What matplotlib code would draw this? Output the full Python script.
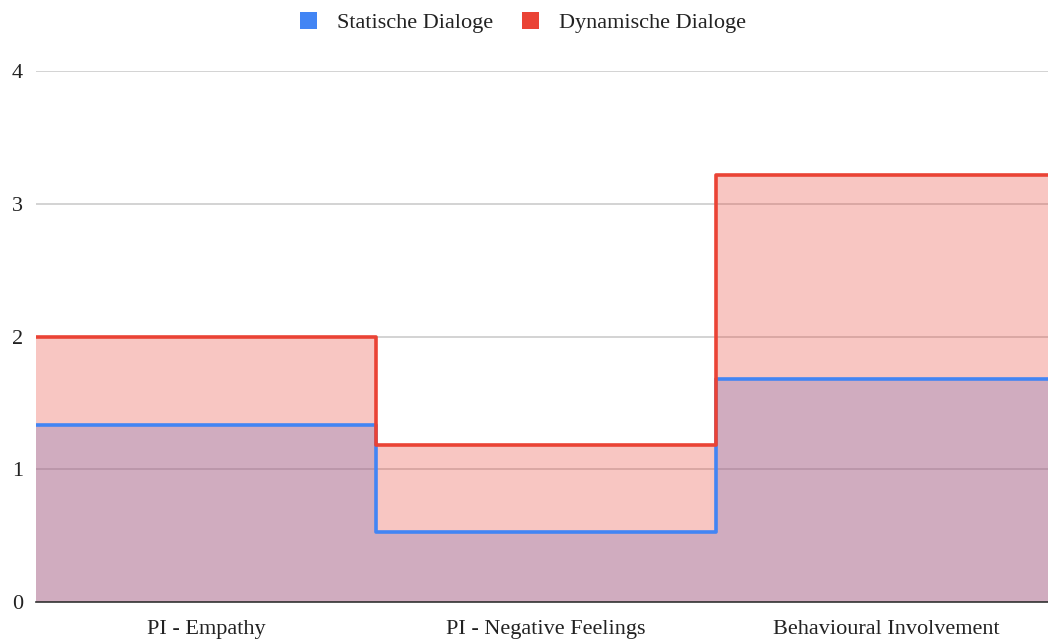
import numpy as np
import matplotlib.pyplot as plt
from matplotlib.patches import Patch

plt.rcParams['font.family'] = ['Liberation Serif', 'DejaVu Serif']

categories = ["PI - Empathy", "PI - Negative Feelings", "Behavioural Involvement"]
statische = [1.33, 0.53, 1.68]
dynamische = [2.0, 1.18, 3.22]

BLUE = "#4285F4"
RED = "#EA4335"

W, H = 1048, 641
fig = plt.figure(figsize=(W / 100, H / 100), dpi=100)
# plot area runs a bit past the right edge of the canvas
ax = fig.add_axes([36 / W, 39 / H, 1020 / W, 531 / H])

edges = np.arange(len(categories) + 1)

# overlapping (not stacked) stepped areas
ax.stairs(statische, edges, fill=True, baseline=0, color=BLUE, alpha=0.3, lw=0, zorder=2)
ax.stairs(dynamische, edges, fill=True, baseline=0, color=RED, alpha=0.3, lw=0, zorder=3)
ax.stairs(statische, edges, baseline=None, color=BLUE, lw=2.6, zorder=4,
          joinstyle='round', capstyle='butt')
ax.stairs(dynamische, edges, baseline=None, color=RED, lw=2.6, zorder=5,
          joinstyle='round', capstyle='butt')

ax.set_xlim(0, 3)
ax.set_ylim(0, 4)
ax.set_yticks([0, 1, 2, 3, 4])
ax.set_xticks(edges[:-1] + 0.5)
ax.set_xticklabels(categories)
ax.tick_params(axis='both', length=0, labelsize=16, colors='#222222')
ax.tick_params(axis='y', pad=9.5)
ax.tick_params(axis='x', pad=13)

ax.grid(axis='y', color='#cccccc', lw=1.2, zorder=1)
ax.set_axisbelow(True)
for s in ['top', 'right', 'left']:
    ax.spines[s].set_visible(False)
ax.spines['bottom'].set_color('#333333')
ax.spines['bottom'].set_linewidth(1.2)
ax.spines['bottom'].set_zorder(6)

handles = [Patch(facecolor=BLUE, edgecolor='none', label="Statische Dialoge"),
           Patch(facecolor=RED, edgecolor='none', label="Dynamische Dialoge")]
fig.legend(handles=handles, loc='upper center', bbox_to_anchor=(0.499, 1.012), ncol=2,
           frameon=False, fontsize=16, handlelength=0.75, handleheight=0.75,
           handletextpad=0.9, columnspacing=1.3, labelcolor='#222222')

fig.savefig("out.png", dpi=100)
